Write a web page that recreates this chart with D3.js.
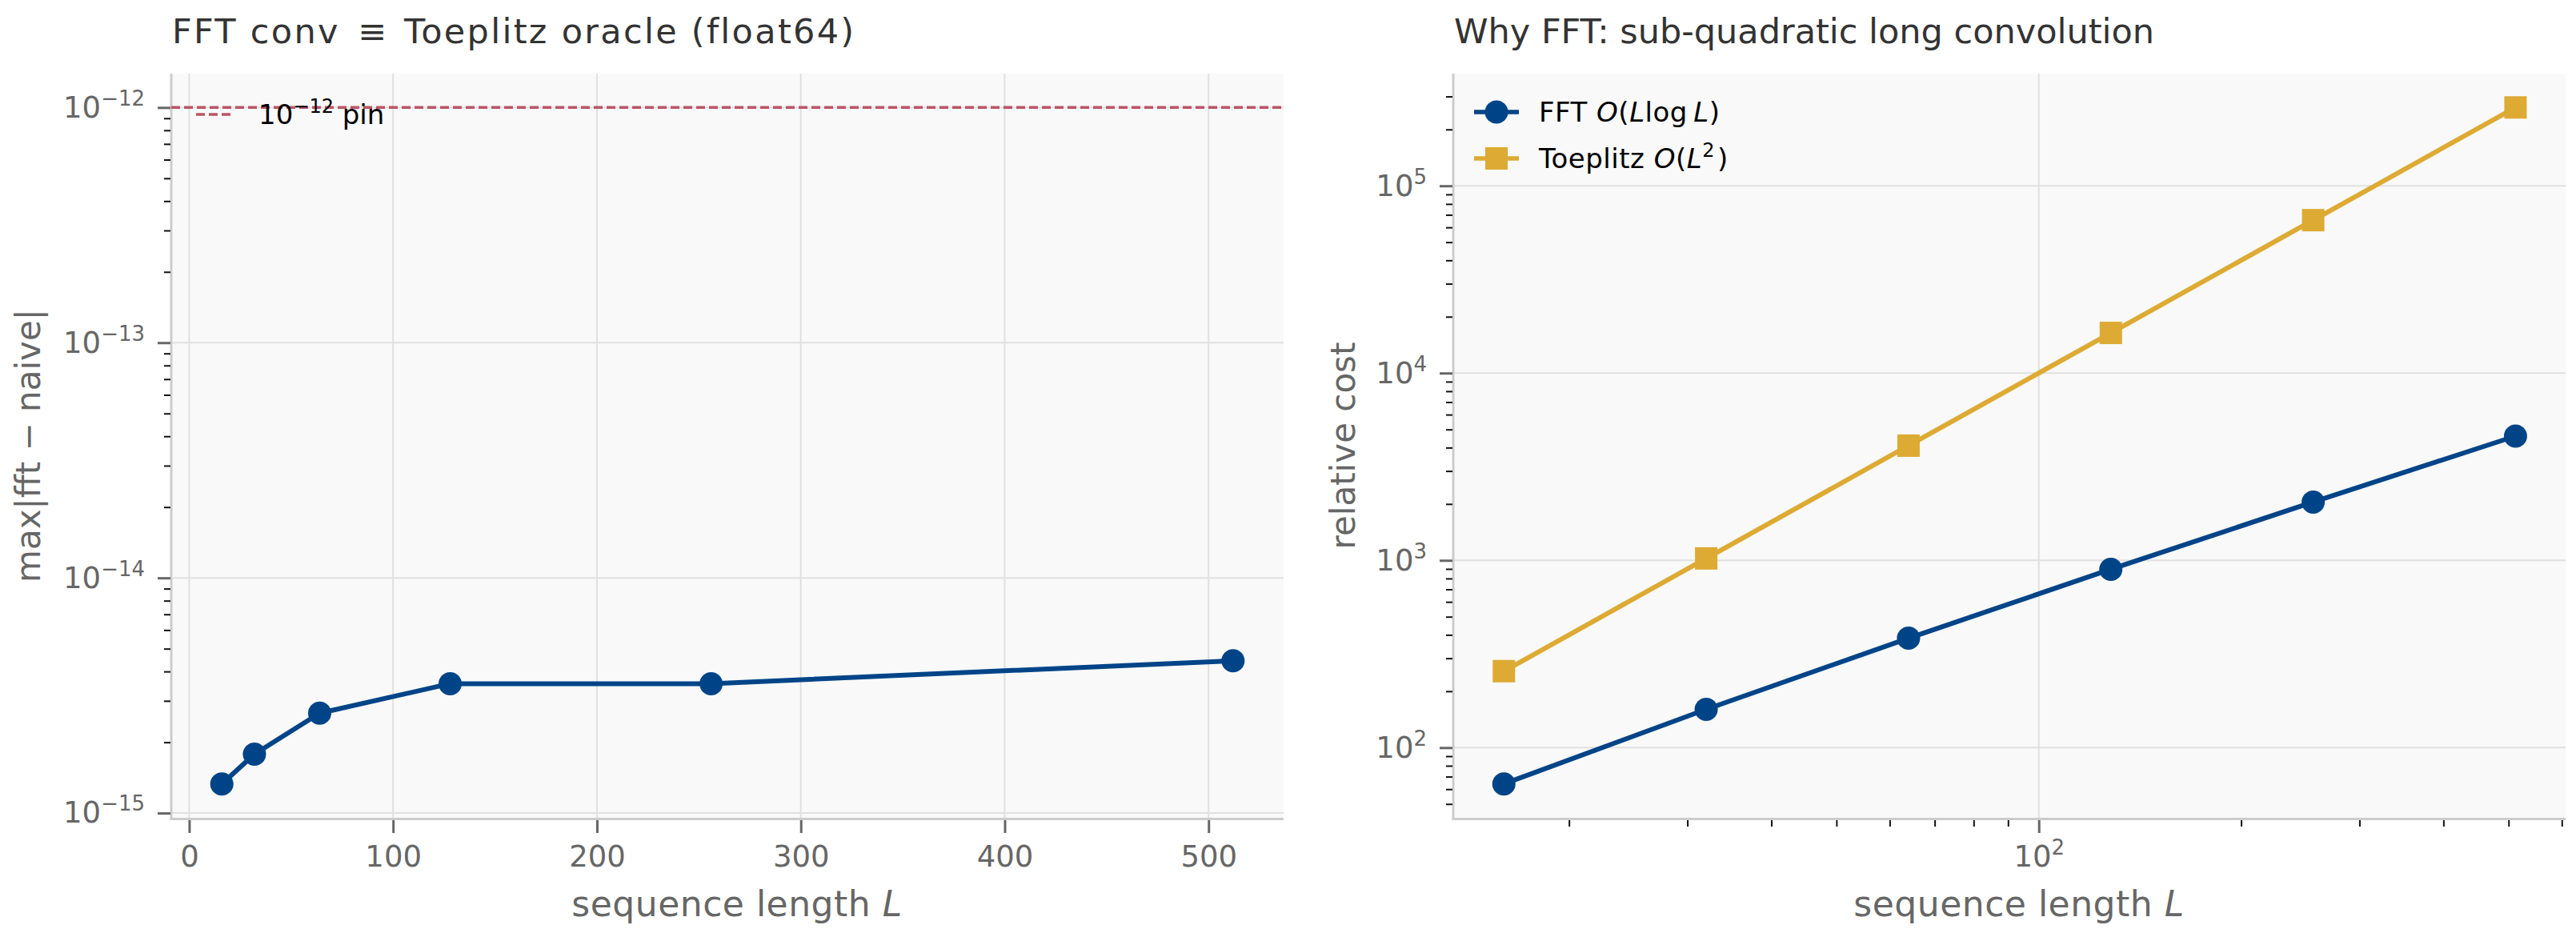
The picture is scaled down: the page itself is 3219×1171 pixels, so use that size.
<!DOCTYPE html>
<html>
<head>
<meta charset="utf-8">
<script src="https://cdn.jsdelivr.net/npm/d3@7"></script>
<style>
  body { margin: 0; background: #fff; }
  text { font-family: "DejaVu Sans", sans-serif; }
</style>
</head>
<body>
<svg id="chart" width="3219" height="1171"></svg>
<script>
// data
const seqLen = [16, 32, 64, 128, 256, 512];
const fftErr = [1.33e-15, 1.78e-15, 2.66e-15, 3.55e-15, 3.55e-15, 4.44e-15];
const fftCost = [64, 160, 384, 896, 2048, 4608];
const toeplitzCost = [256, 1024, 4096, 16384, 65536, 262144];
const pinLevel = 1e-12;
const lenTicks = [0, 100, 200, 300, 400, 500];
const errDecades = [-15, -14, -13, -12];
const costDecades = [2, 3, 4, 5];
const lenDecades = [2];

const BLUE = "#004488", GOLD = "#DDAA33", RED = "#BB5566";
const TOP = 92, BOT = 1022, PW = 1390;
const L1 = 214, L2 = 1816;

var svg = d3.select("#chart");

var xErr = d3.scaleLinear().domain([-8.8, 536.8]).range([L1, L1 + PW]);
var yErr = d3.scaleLog().domain([Math.pow(10, -15.02), Math.pow(10, -11.856)]).range([BOT, TOP]);
var xCost = d3.scaleLog().domain([Math.pow(10, 1.1288), Math.pow(10, 2.7838)]).range([L2, L2 + PW]);
var yCost = d3.scaleLog().domain([Math.pow(10, 1.6253), Math.pow(10, 5.5991)]).range([BOT, TOP]);

function minorTicks(scale, decades) {
    var [lo, hi] = scale.domain();
    var out = [];
    decades.forEach(function(d) {
        for (var m = 2; m <= 9; m++) {
            var v = m * Math.pow(10, d);
            if (v >= lo && v <= hi) out.push(v);
        }
    });
    return out;
}

function powText(sel, exp) {
    sel.text(null);
    sel.append("tspan").text("10");
    sel.append("tspan").attr("dy", -15).attr("font-size", 26).text(exp);
}

function panel(x, y, xMajor, yMajorExp) {
    var g = svg.append("g");
    var [x0, x1] = x.range();

    g.append("rect")
        .attr("x", x0).attr("y", TOP)
        .attr("width", x1 - x0).attr("height", BOT - TOP)
        .attr("fill", "#f9f9f9");

    // grid
    g.selectAll(".vgrid").data(xMajor).enter().append("line")
        .attr("x1", d => x(d)).attr("x2", d => x(d))
        .attr("y1", TOP).attr("y2", BOT)
        .attr("stroke", "#e0e0e0").attr("stroke-width", 2);
    g.selectAll(".hgrid").data(yMajorExp).enter().append("line")
        .attr("x1", x0).attr("x2", x1)
        .attr("y1", d => y(Math.pow(10, d))).attr("y2", d => y(Math.pow(10, d)))
        .attr("stroke", "#e0e0e0").attr("stroke-width", 2);

    // spines
    g.append("line").attr("x1", x0).attr("x2", x0).attr("y1", TOP).attr("y2", BOT + 3)
        .attr("stroke", "#cccccc").attr("stroke-width", 3);
    g.append("line").attr("x1", x0 - 1.5).attr("x2", x1).attr("y1", BOT + 1.5).attr("y2", BOT + 1.5)
        .attr("stroke", "#cccccc").attr("stroke-width", 3);
    return g;
}

function title(g, x0) {
    return g.append("text")
        .attr("x", x0 + 1).attr("y", 54)
        .attr("font-size", 43).attr("fill", "#333");
}

function styleAxis(ax, color, width) {
    ax.select(".domain").remove();
    ax.selectAll(".tick line").attr("stroke", color).attr("stroke-width", width);
    ax.selectAll(".tick text").attr("fill", "#666").attr("font-size", 37)
        .attr("font-family", "DejaVu Sans, sans-serif");
}

function addAxes(g, x, y, xMajor, xFmt, yMajorExp, xMinor, yMinor) {
    var x0 = x.range()[0];
    // minor ticks
    var ayMin = g.append("g").attr("transform", `translate(${x0 - 1},0)`)
        .call(d3.axisLeft(y).tickValues(yMinor).tickSize(8).tickFormat(""));
    styleAxis(ayMin, "#111", 2);
    if (xMinor.length) {
        var axMin = g.append("g").attr("transform", `translate(0,${BOT + 3})`)
            .call(d3.axisBottom(x).tickValues(xMinor).tickSize(8).tickFormat(""));
        styleAxis(axMin, "#111", 2);
    }
    // major ticks
    var ay = g.append("g").attr("transform", `translate(${x0 - 1},0)`)
        .call(d3.axisLeft(y).tickValues(yMajorExp.map(e => Math.pow(10, e))).tickSize(16).tickPadding(16));
    styleAxis(ay, "#666", 3);
    ay.selectAll(".tick text").each(function(d) {
        var e = Math.round(Math.log10(d));
        powText(d3.select(this), e < 0 ? "\u2212" + (-e) : String(e));
    });
    var ax = g.append("g").attr("transform", `translate(0,${BOT + 3})`)
        .call(d3.axisBottom(x).tickValues(xMajor).tickSize(16).tickPadding(16));
    styleAxis(ax, "#666", 3);
    if (xFmt) ax.selectAll(".tick text").each(function(d) { xFmt(d3.select(this), d); });
}

function xLabel(g, x) {
    var [x0, x1] = x.range();
    var t = g.append("text")
        .attr("x", (x0 + x1) / 2 + 12).attr("y", 1145)
        .attr("text-anchor", "middle").attr("font-size", 44).attr("fill", "#666")
        .attr("letter-spacing", 0.5);
    t.append("tspan").text("sequence length ");
    t.append("tspan").attr("font-style", "italic").text("L");
}

function yLabel(g, cx, text) {
    g.append("text")
        .attr("transform", `translate(${cx},${(TOP + BOT) / 2}) rotate(-90)`)
        .attr("text-anchor", "middle").attr("font-size", 42).attr("fill", "#666")
        .text(text);
}

// ---- left panel: error ----
var gL = panel(xErr, yErr, lenTicks, errDecades);
var tl = title(gL, L1).attr("letter-spacing", 2.3);
tl.append("tspan").text("FFT conv");
tl.append("tspan").attr("x", 447).text("\u2261");
tl.append("tspan").attr("x", 505).text("Toeplitz oracle (float64)");

gL.append("line")
    .attr("x1", L1).attr("x2", L1 + PW)
    .attr("y1", yErr(pinLevel)).attr("y2", yErr(pinLevel))
    .attr("stroke", RED).attr("stroke-width", 3.5).attr("stroke-dasharray", "11,5");

var errPts = seqLen.map((d, i) => [d, fftErr[i]]);
gL.append("path")
    .datum(errPts)
    .attr("d", d3.line().x(d => xErr(d[0])).y(d => yErr(d[1])))
    .attr("fill", "none").attr("stroke", BLUE).attr("stroke-width", 6)
    .attr("stroke-linejoin", "round");
gL.selectAll(".pt").data(errPts).enter().append("circle")
    .attr("cx", d => xErr(d[0])).attr("cy", d => yErr(d[1])).attr("r", 14.5)
    .attr("fill", BLUE);

addAxes(gL, xErr, yErr, lenTicks, null, errDecades, [], minorTicks(yErr, errDecades));
xLabel(gL, xErr);
yLabel(gL, 50, "max|fft \u2212 naive|");

// legend
gL.append("line").attr("x1", 245).attr("x2", 292).attr("y1", 143).attr("y2", 143)
    .attr("stroke", RED).attr("stroke-width", 3.5).attr("stroke-dasharray", "11,5");
var lt = gL.append("text").attr("x", 323).attr("y", 155).attr("font-size", 34).attr("fill", "#000");
lt.append("tspan").text("10");
lt.append("tspan").attr("dy", -14).attr("font-size", 24).text("\u221212");
lt.append("tspan").attr("dy", 14).text(" pin");

// ---- right panel: cost ----
var gR = panel(xCost, yCost, lenDecades.map(e => Math.pow(10, e)), costDecades);
title(gR, L2).text("Why FFT: sub-quadratic long convolution");

var series = [
    { name: "fft", color: BLUE, values: fftCost, marker: "circle" },
    { name: "toeplitz", color: GOLD, values: toeplitzCost, marker: "square" }
];
series.forEach(function(s) {
    var pts = seqLen.map((d, i) => [d, s.values[i]]);
    gR.append("path")
        .datum(pts)
        .attr("d", d3.line().x(d => xCost(d[0])).y(d => yCost(d[1])))
        .attr("fill", "none").attr("stroke", s.color).attr("stroke-width", 6);
    if (s.marker === "circle") {
        gR.selectAll(".c-" + s.name).data(pts).enter().append("circle")
            .attr("cx", d => xCost(d[0])).attr("cy", d => yCost(d[1])).attr("r", 14.5)
            .attr("fill", s.color);
    } else {
        gR.selectAll(".s-" + s.name).data(pts).enter().append("rect")
            .attr("x", d => xCost(d[0]) - 14).attr("y", d => yCost(d[1]) - 14)
            .attr("width", 28).attr("height", 28)
            .attr("fill", s.color);
    }
});

var lenMinor = minorTicks(xCost, [1, 2]);
addAxes(gR, xCost, yCost, lenDecades.map(e => Math.pow(10, e)), function(sel, d) {
    powText(sel, String(Math.round(Math.log10(d))));
}, costDecades, lenMinor, minorTicks(yCost, [1, 2, 3, 4, 5]));
xLabel(gR, xCost);
yLabel(gR, 1693, "relative cost");

// legend
var leg = gR.append("g");
leg.append("line").attr("x1", 1842).attr("x2", 1898).attr("y1", 140).attr("y2", 140)
    .attr("stroke", BLUE).attr("stroke-width", 5.5);
leg.append("circle").attr("cx", 1870).attr("cy", 140).attr("r", 14.5).attr("fill", BLUE);
var t1 = leg.append("text").attr("x", 1923).attr("y", 152).attr("font-size", 34).attr("fill", "#000")
    .attr("letter-spacing", 0.5);
t1.append("tspan").text("FFT ");
t1.append("tspan").attr("font-style", "italic").text("O");
t1.append("tspan").text("(");
t1.append("tspan").attr("font-style", "italic").text("L");
t1.append("tspan").text("log");
t1.append("tspan").attr("font-style", "italic").text("\u2009L");
t1.append("tspan").text(")");

leg.append("line").attr("x1", 1842).attr("x2", 1898).attr("y1", 198).attr("y2", 198)
    .attr("stroke", GOLD).attr("stroke-width", 5.5);
leg.append("rect").attr("x", 1856).attr("y", 184).attr("width", 28).attr("height", 28).attr("fill", GOLD);
var t2 = leg.append("text").attr("x", 1923).attr("y", 210).attr("font-size", 34).attr("fill", "#000")
    .attr("letter-spacing", 0.5);
t2.append("tspan").text("Toeplitz ");
t2.append("tspan").attr("font-style", "italic").text("O");
t2.append("tspan").text("(");
t2.append("tspan").attr("font-style", "italic").text("L");
t2.append("tspan").attr("dy", -14).attr("font-size", 24).text("2");
t2.append("tspan").attr("dx", 3).attr("dy", 14).text(")");
</script>
</body>
</html>
